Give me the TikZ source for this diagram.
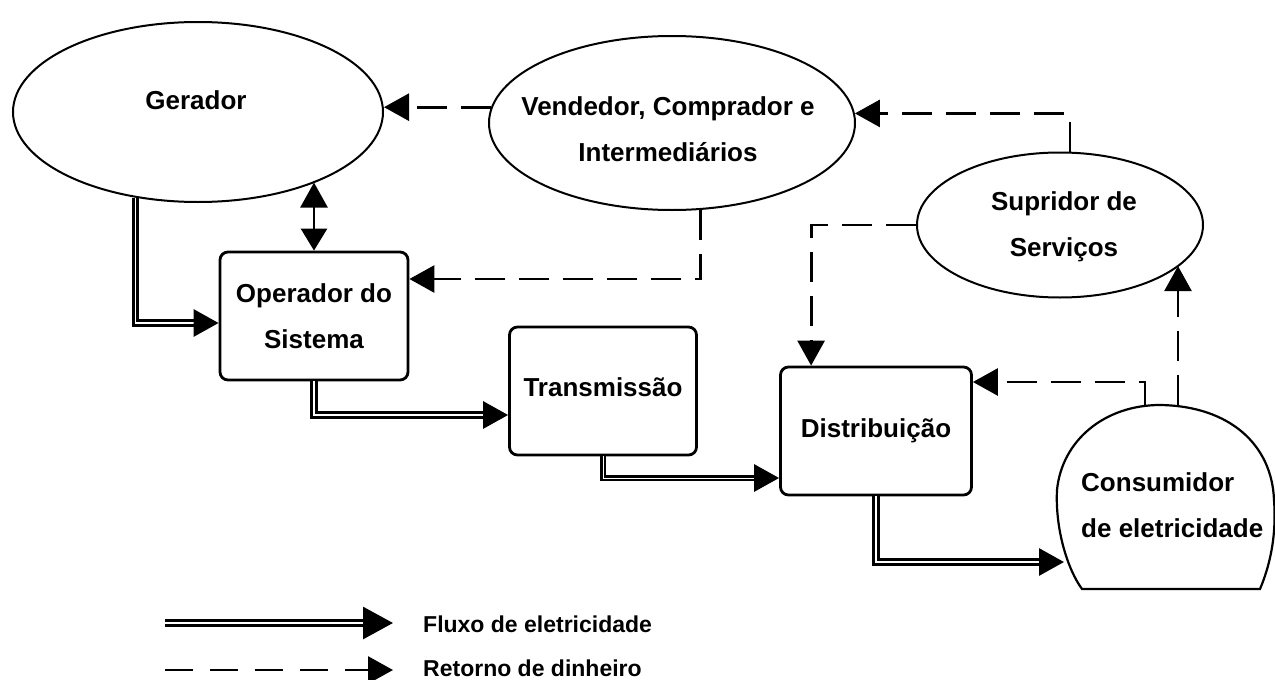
\documentclass[tikz,border=0pt]{standalone}
\usepackage{fontspec}
\setmainfont{Liberation Sans}
\usetikzlibrary{shapes.geometric,arrows.meta,calc}
\begin{document}
\begin{tikzpicture}[x=1pt,y=-1pt,
  lbl/.style={font=\fontsize{26}{46}\selectfont\bfseries, align=center, inner sep=0pt},
  leglbl/.style={font=\fontsize{23}{28}\selectfont\bfseries, inner sep=0pt},
  oval/.style={draw, ellipse, line width=2pt, inner sep=0pt},
  box/.style={draw, rectangle, rounded corners=8pt, line width=2.8pt, inner sep=0pt,
    minimum width=188pt, minimum height=128pt,
    font=\fontsize{26}{46}\selectfont\bfseries, align=center},
  flow/.style={double, line width=3pt, double distance=1.4pt, -{Triangle[length=25pt,width=27pt]}},
  money/.style={line width=2.8pt, dash pattern=on 30pt off 14pt, -{Triangle[length=25pt,width=27pt]}},
  twoway/.style={line width=2.8pt, {Triangle[length=22pt,width=26pt]}-{Triangle[length=25pt,width=27pt]}},
]
\useasboundingbox (0,0) rectangle (1275,680);

% ovals
\node[oval, minimum width=370pt, minimum height=180pt] (gerador) at (198,112) {};
\node[lbl] (gerador-t) at (196,100) {Gerador};
\node[oval, minimum width=366pt, minimum height=174pt] (vendedor) at (672,123) {};
\node[lbl] (vendedor-t) at (668,129) {Vendedor, Comprador e\\Intermediários};
\node[oval, minimum width=286pt, minimum height=145pt] (supridor) at (1060,225) {};
\node[lbl] (supridor-t) at (1064,227) {Supridor de\\Serviços};

% boxes
\node[box] (operador) at (314,316) {Operador do\\Sistema};
\node[box, minimum width=187pt] (transmissao) at (603,391) {\raisebox{8pt}{Transmissão}};
\node[box, minimum width=191pt] (distribuicao) at (876,431) {Distribuição};

% consumer
\draw[line width=2.2pt] (1082,589) -- (1260,589)
  .. controls (1268,570) and (1277,540) .. (1274,500)
  .. controls (1272,445) and (1230,406) .. (1160,405)
  .. controls (1105,405) and (1062,440) .. (1057,490)
  .. controls (1055,530) and (1068,570) .. (1082,589) -- cycle;
\node[lbl, align=left, anchor=west] (consumidor) at (1081,505) {Consumidor\\de eletricidade};
\coordinate (c-out1) at (1145,406);
\coordinate (c-out2) at (1178,405);
\coordinate (c-in) at (1064,562);

% electricity flow
\draw[flow] (gerador.234) |- ([yshift=-7pt]operador.west);
\draw[flow] (operador.south) |- ([yshift=-24pt]transmissao.west);
\draw[flow, double distance=0.5pt] (transmissao.south) |- ([yshift=-47pt]distribuicao.west);
\draw[flow] (distribuicao.south) |- (c-in);
\draw[twoway] (operador.north) -- (operador.north |- gerador.-31);

% money return
\draw[money] (vendedor.175) -- (vendedor.175 -| gerador.east);
\draw[money] (vendedor.-72) |- ([yshift=37pt]operador.east);
\draw[money] ([xshift=10pt]supridor.north) |- (vendedor.3);
\draw[money] (supridor.west) -| ([xshift=32pt]distribuicao.north west);
\draw[money] (c-out2) -- (c-out2 |- supridor.-19);
\draw[money] (c-out1) |- ([yshift=49pt]distribuicao.east);

% legend
\coordinate (leg1a) at (165,623);
\coordinate (leg1b) at (393,623);
\draw[flow, -{Triangle[length=30pt,width=32pt]}] (leg1a) -- (leg1b);
\node[leglbl, anchor=west] (leg1t) at (423,624) {Fluxo de eletricidade};
\coordinate (leg2a) at (165,670);
\coordinate (leg2b) at (393,670);
\draw[money, dash pattern=on 28pt off 17pt] (leg2a) -- (leg2b);
\node[leglbl, anchor=west] (leg2t) at (423,668) {Retorno de dinheiro};
\end{tikzpicture}
\end{document}
